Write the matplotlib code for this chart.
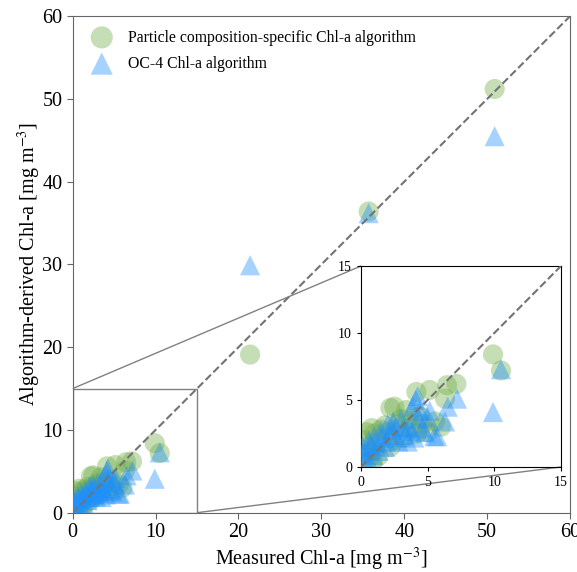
import matplotlib
matplotlib.use("Agg")
import matplotlib.pyplot as plt
from mpl_toolkits.axes_grid1.inset_locator import mark_inset

plt.rcParams['font.family'] = ['Liberation Serif', 'DejaVu Serif']
plt.rcParams['mathtext.fontset'] = 'stix'

# Particle composition-specific algorithm (green circles)
pc_measured = [50.9, 35.7, 21.4, 9.9, 10.5, 7.15, 6.45, 6.3, 5.15, 4.15, 2.2, 2.5,
               3.4, 4.4, 5.55, 6.0, 5.0, 3.0, 2.8, 0.8, 0.4, 0.15, 1.3, 0.9, 1.0,
               1.5, 2.0, 1.8, 3.8, 4.2, 3.2, 2.5, 1.2, 0.5, 0.3, 0.6, 2.2, 3.5,
               4.6, 1.0]
pc_derived = [51.2, 36.4, 19.1, 8.4, 7.2, 6.2, 6.1, 5.1, 5.75, 5.6, 4.4, 4.5,
              4.25, 3.8, 3.4, 3.0, 2.6, 3.6, 3.2, 2.9, 2.6, 2.0, 0.8, 0.4, 2.5,
              2.8, 2.6, 3.1, 3.0, 2.5, 2.2, 2.0, 1.8, 1.5, 1.0, 0.7, 1.5, 3.5,
              3.2, 1.2]

# OC-4 algorithm (blue triangles)
oc4_measured = [50.9, 35.7, 21.4, 10.5, 9.9, 7.2, 6.5, 6.3, 5.15, 4.1, 4.25, 5.7,
                5.5, 4.6, 4.3, 3.5, 2.8, 3.8, 3.2, 2.6, 2.1, 1.6, 1.2, 0.8, 0.4,
                0.2, 0.1, 0.6, 1.0, 1.5, 2.0, 2.4, 3.0, 3.6, 4.0, 3.3, 2.7, 1.8,
                1.3, 0.9, 0.5, 4.8, 4.4, 3.9, 5.0, 2.3, 1.9, 0.3]
oc4_derived = [45.5, 36.2, 29.9, 7.3, 4.1, 5.1, 4.5, 3.4, 4.2, 5.0, 5.3, 2.3,
               2.3, 2.9, 3.6, 1.9, 1.9, 2.7, 2.9, 3.0, 2.4, 2.2, 1.8, 1.6, 1.3,
               1.0, 1.5, 2.0, 2.3, 2.7, 3.2, 3.4, 3.6, 3.0, 2.2, 2.4, 2.2, 1.5,
               1.2, 0.9, 0.6, 2.6, 4.2, 4.5, 3.7, 2.8, 1.9, 0.4]

main_ticks = [0, 10, 20, 30, 40, 50, 60]
inset_ticks = [0, 5, 10, 15]

green = '#70AD47'
blue = '#1E90FF'

fig = plt.figure(figsize=(5.77, 5.72), dpi=100)
ax = fig.add_axes([0.126, 0.1037, 0.862, 0.868])

ax.scatter(pc_measured, pc_derived, s=210, marker='o', color=green, alpha=0.4,
           edgecolors='none', label='Particle composition-specific Chl-a algorithm', zorder=2)
ax.scatter(oc4_measured, oc4_derived, s=210, marker='^', color=blue, alpha=0.4,
           edgecolors='none', label='OC-4 Chl-a algorithm', zorder=3)
ax.plot([0, 60], [0, 60], linestyle='--', color='0.45', lw=1.5, zorder=4)

ax.set_xlim(0, 60)
ax.set_ylim(0, 60)
ax.set_xticks(main_ticks)
ax.set_yticks(main_ticks)
ax.tick_params(labelsize=14.5, direction='out', length=4, color='0.4')
for sp in ax.spines.values():
    sp.set_color('0.4')
ax.set_xlabel(r'Measured Chl-a [mg m$^{-3}$]', fontsize=14.5, labelpad=2.5)
ax.set_ylabel(r'Algorithm-derived Chl-a [mg m$^{-3}$]', fontsize=14.5, labelpad=-0.5)

leg = ax.legend(loc='upper left', frameon=False, fontsize=11.3, handletextpad=0.7,
                borderaxespad=0.45, labelspacing=0.65, markerscale=1.1)

axins = fig.add_axes([0.6257, 0.1836, 0.3466, 0.3514])
axins.scatter(pc_measured, pc_derived, s=210, marker='o', color=green, alpha=0.4,
              edgecolors='none', zorder=2)
axins.scatter(oc4_measured, oc4_derived, s=210, marker='^', color=blue, alpha=0.4,
              edgecolors='none', zorder=3)
axins.plot([0, 15], [0, 15], linestyle='--', color='0.45', lw=1.5, zorder=4)
axins.set_xlim(0, 15)
axins.set_ylim(0, 15)
axins.set_xticks(inset_ticks)
axins.set_yticks(inset_ticks)
axins.tick_params(labelsize=10, direction='out', length=3)

mark_inset(ax, axins, loc1=2, loc2=4, fc='none', ec='0.5', lw=1)

fig.savefig('out.png', dpi=100)
